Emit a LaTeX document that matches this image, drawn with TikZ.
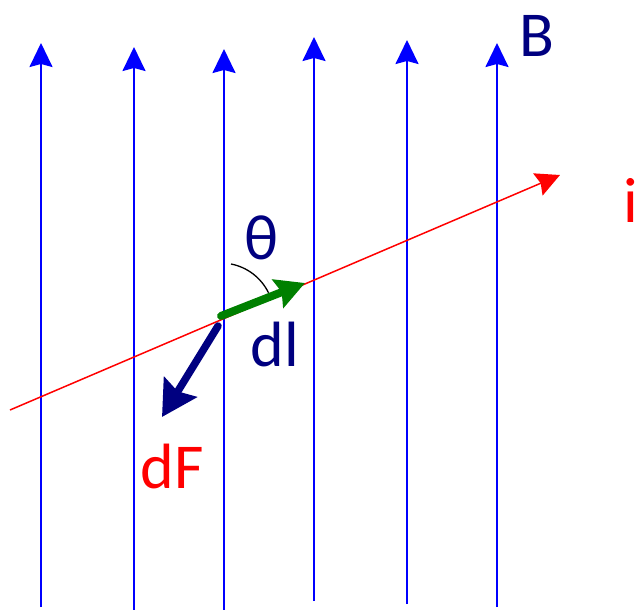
\documentclass[tikz,border=0pt]{standalone}
\usepackage{fontspec}
\setmainfont{Carlito}
\usetikzlibrary{arrows.meta}
\definecolor{navy}{RGB}{0,0,128}
\definecolor{dgreen}{RGB}{0,128,0}
\begin{document}
\begin{tikzpicture}[x=1pt,y=-1pt,
  field/.style={draw=blue, line width=2pt, -{Stealth[length=24pt,width=23pt,inset=3pt]}},
  lbl/.style={font=\fontsize{64}{70}\selectfont, inner sep=0pt}]
\useasboundingbox (0,0) rectangle (638,610);
% field lines
\foreach \n/\x/\yb/\yt in {1/41/607/43, 2/134/610/47, 3/224/610/49, 4/314/601/37, 5/407/604/40, 6/497/607/43}{
  \coordinate (b\n) at (\x,\yb);
  \coordinate (t\n) at (\x,\yt);
  \draw[field] (b\n) -- (t\n);
}
% current line
\coordinate (i0) at (10,410);
\coordinate (i1) at (560,175);
\draw[red, line width=1.5pt, -{Stealth[length=24pt,width=24pt,inset=3pt]}] (i0) -- (i1);
% dl arrow
\coordinate (o) at (221,316);
\coordinate (dlt) at (305,283);
\draw[dgreen, line width=8pt, line cap=round, -{Stealth[length=29pt,width=30pt,inset=4pt,line cap=butt]}] (o) -- (dlt);
% dF arrow
\coordinate (o2) at (218,326);
\coordinate (dft) at (162,417);
\draw[navy, line width=7.5pt, line cap=round, -{Stealth[length=35pt,width=38pt,inset=5pt,line cap=butt]}] (o2) -- (dft);
% angle arc
\coordinate (a0) at (231,264);
\draw[black, line width=1.3pt] (a0) arc[start angle=-79, end angle=-26, radius=53];
% labels
\node[lbl, text=navy] (B) at (537,36) {B};
\node[lbl, text=red] (i) at (631,200) {i};
\node[lbl, text=navy] (th) at (262,238) {θ};
\node[lbl, text=navy] (dl) at (275,344) {dl};
\node[lbl, text=red] (dF) at (172,466) {dF};
\end{tikzpicture}
\end{document}
